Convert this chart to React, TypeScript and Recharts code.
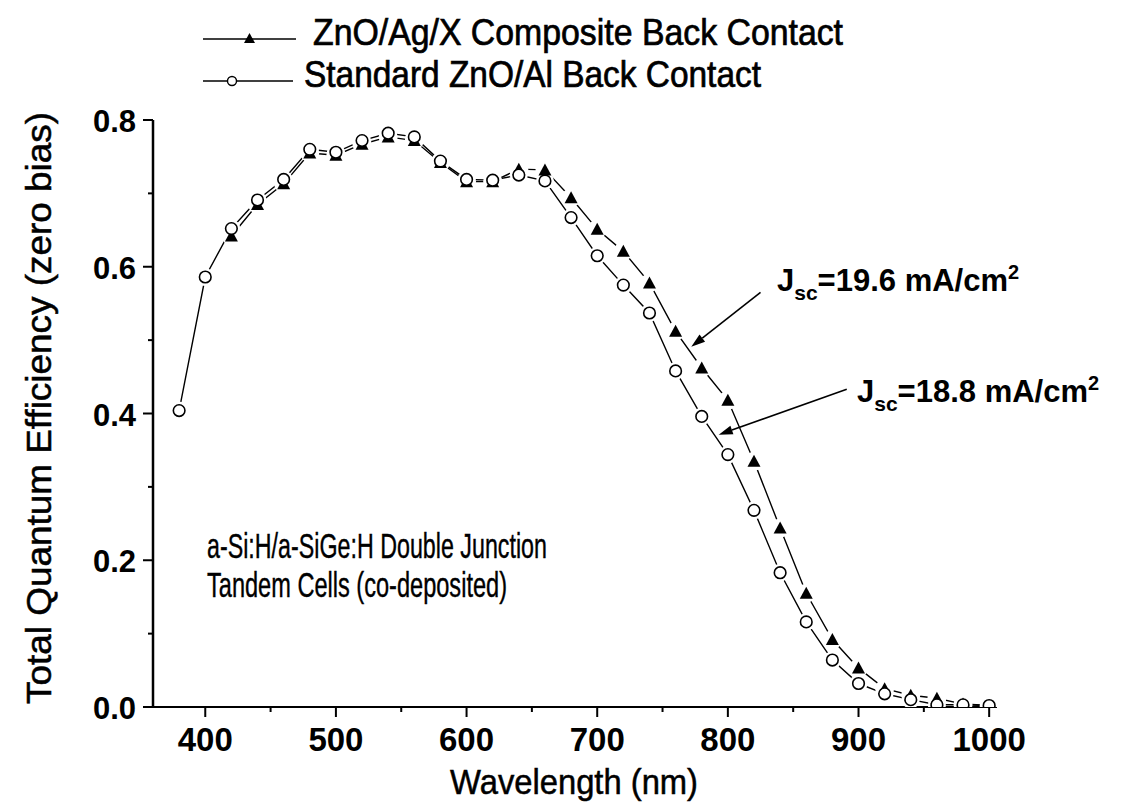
import { LineChart, Line, XAxis, YAxis, ReferenceLine } from "recharts";

const FONT = '"Liberation Sans", Arial, sans-serif';

// wavelength grid (nm) and total QE at zero bias
const wavelength = [
  380, 400, 420, 440, 460, 480, 500, 520, 540, 560, 580, 600, 620, 640, 660, 680,
  700, 720, 740, 760, 780, 800, 820, 840, 860, 880, 900, 920, 940, 960, 980, 1000,
];
const standardQE = [
  0.404, 0.586, 0.652, 0.691, 0.719, 0.76, 0.756, 0.772, 0.782, 0.777, 0.744, 0.719,
  0.718, 0.725, 0.717, 0.667, 0.615, 0.575, 0.537, 0.458, 0.396, 0.344, 0.268, 0.183,
  0.116, 0.064, 0.032, 0.018, 0.01, 0.003, 0.003, 0.002,
];
const compositeQE = [
  null, null, 0.642, 0.685, 0.713, 0.755, 0.752, 0.767, 0.777, 0.772, 0.742, 0.716,
  0.716, 0.733, 0.732, 0.694, 0.651, 0.621, 0.578, 0.512, 0.462, 0.418, 0.335, 0.244,
  0.155, 0.092, 0.053, 0.025, 0.016, 0.012, 0.004, 0.002,
];

const xTicks = [400, 450, 500, 550, 600, 650, 700, 750, 800, 850, 900, 950, 1000];
const yTicks = [0, 0.1, 0.2, 0.3, 0.4, 0.5, 0.6, 0.7, 0.8];

// annotation arrows: tail -> head, in data units
const arrow196 = [{ x: 825, y: 0.565 }, { x: 772, y: 0.491 }];
const arrow188 = [{ x: 891, y: 0.433 }, { x: 793, y: 0.371 }];

const rows = wavelength.map((nm, i) => ({ nm, std: standardQE[i], comp: compositeQE[i] }));

function XTick(props: any) {
  const { x, y, payload } = props;
  const major = payload.value % 100 === 0;
  return (
    <g>
      <line x1={x} y1={y} x2={x} y2={y + (major ? 10 : 5)} stroke="#000" strokeWidth={2} />
      {major && (
        <text x={x} y={y + 44} textAnchor="middle" fontSize={33} fontWeight="bold" fontFamily={FONT} fill="#000">
          {payload.value}
        </text>
      )}
    </g>
  );
}

function YTick(props: any) {
  const { x, y, payload } = props;
  const major = Math.round(payload.value * 10) % 2 === 0;
  return (
    <g>
      <line x1={x} y1={y} x2={x - (major ? 10 : 5)} y2={y} stroke="#000" strokeWidth={2} />
      {major && (
        <text x={x - 17} y={y + 12} textAnchor="end" fontSize={31} fontWeight="bold" fontFamily={FONT} fill="#000">
          {payload.value.toFixed(1)}
        </text>
      )}
    </g>
  );
}

// white halos cut the connecting line short of each marker
const haloDot = (r: number) => (props: any) => {
  const { cx, cy, index, value } = props;
  if (value == null || cx == null || cy == null) return <g key={`h-${index}`} />;
  return <circle key={`h-${index}`} cx={cx} cy={cy} r={r} fill="#fff" stroke="none" />;
};

function TriangleDot(props: any) {
  const { cx, cy, index, value } = props;
  if (value == null || cx == null || cy == null) return <g key={`t-${index}`} />;
  return (
    <polygon
      key={`t-${index}`}
      points={`${cx},${cy - 6.5} ${cx + 6.5},${cy + 5.5} ${cx - 6.5},${cy + 5.5}`}
      fill="#000"
    />
  );
}

function CircleDot(props: any) {
  const { cx, cy, index, value } = props;
  if (value == null || cx == null || cy == null) return <g key={`c-${index}`} />;
  return <circle key={`c-${index}`} cx={cx} cy={cy} r={5.8} fill="#fff" stroke="#000" strokeWidth={1.6} />;
}

function Arrow(props: any) {
  const { x1, y1, x2, y2 } = props;
  const ang = Math.atan2(y2 - y1, x2 - x1);
  const len = 14;
  const w = 4.5;
  const bx = x2 - len * Math.cos(ang);
  const by = y2 - len * Math.sin(ang);
  const px = -Math.sin(ang) * w;
  const py = Math.cos(ang) * w;
  return (
    <g>
      <line x1={x1} y1={y1} x2={bx} y2={by} stroke="#000" strokeWidth={1.6} />
      <polygon points={`${x2},${y2} ${bx + px},${by + py} ${bx - px},${by - py}`} fill="#000" />
    </g>
  );
}

export default function App() {
  return (
    <div style={{ position: "absolute", left: 0, top: 0, width: 1126, height: 809, background: "#fff" }}>
      <LineChart width={1126} height={809} data={rows} margin={{ top: 120, right: 129, bottom: 0, left: 0 }}>
        <XAxis
          type="number"
          dataKey="nm"
          domain={[360, 1006]}
          ticks={xTicks}
          interval={0}
          tick={XTick}
          tickLine={false}
          tickSize={0}
          tickMargin={0}
          height={102}
          axisLine={{ stroke: "#000", strokeWidth: 2 }}
          allowDataOverflow
        />
        <YAxis
          type="number"
          domain={[0, 0.8]}
          ticks={yTicks}
          interval={0}
          tick={YTick}
          tickLine={false}
          tickSize={0}
          tickMargin={0}
          width={153}
          axisLine={{ stroke: "#000", strokeWidth: 2.5 }}
          allowDataOverflow
        />
        <Line dataKey="comp" stroke="#000" strokeWidth={1.4} dot={false} isAnimationActive={false} />
        <Line dataKey="std" stroke="#000" strokeWidth={1.4} dot={false} isAnimationActive={false} />
        <Line dataKey="comp" stroke="none" dot={haloDot(9.5)} activeDot={false} isAnimationActive={false} />
        <Line dataKey="std" stroke="none" dot={haloDot(9)} activeDot={false} isAnimationActive={false} />
        <Line dataKey="comp" stroke="none" dot={TriangleDot} activeDot={false} isAnimationActive={false} />
        <Line dataKey="std" stroke="none" dot={CircleDot} activeDot={false} isAnimationActive={false} />
        <ReferenceLine y={0} stroke="#000" strokeWidth={2} />
        <ReferenceLine segment={arrow196} shape={Arrow} />
        <ReferenceLine segment={arrow188} shape={Arrow} />
      </LineChart>

      <svg width={1126} height={809} style={{ position: "absolute", left: 0, top: 0, pointerEvents: "none" }}>
        <g fontFamily={FONT} fill="#000">
          {/* x axis line runs a little past the y axis */}
          <line x1={143} y1={707} x2={153} y2={707} stroke="#000" strokeWidth={2} />

          {/* legend */}
          <line x1={203} y1={39} x2={296} y2={39} stroke="#000" strokeWidth={1.6} />
          <polygon points="249.5,33 255,43 244,43" fill="#000" />
          <text x={313} y={45} fontSize={36} stroke="#000" strokeWidth={0.7} textLength={530} lengthAdjust="spacingAndGlyphs">
            ZnO/Ag/X Composite Back Contact
          </text>
          <line x1={203} y1={81} x2={293} y2={81} stroke="#000" strokeWidth={1.6} />
          <circle cx={232} cy={81} r={4.5} fill="#fff" stroke="#000" strokeWidth={1.4} />
          <text x={304} y={87} fontSize={36} stroke="#000" strokeWidth={0.7} textLength={457} lengthAdjust="spacingAndGlyphs">
            Standard ZnO/Al Back Contact
          </text>

          {/* axis titles */}
          <text x={574} y={794} fontSize={35} textAnchor="middle" stroke="#000" strokeWidth={0.5} textLength={248} lengthAdjust="spacingAndGlyphs">
            Wavelength (nm)
          </text>
          <text
            transform="translate(51,408) rotate(-90)"
            fontSize={35}
            textAnchor="middle"
            stroke="#000"
            strokeWidth={0.5}
            textLength={592}
            lengthAdjust="spacingAndGlyphs"
          >
            Total Quantum Efficiency (zero bias)
          </text>

          {/* sample description */}
          <text x={207} y={558} fontSize={35} stroke="#000" strokeWidth={0.4} textLength={340} lengthAdjust="spacingAndGlyphs">
            a-Si:H/a-SiGe:H Double Junction
          </text>
          <text x={207} y={597} fontSize={35} stroke="#000" strokeWidth={0.4} textLength={300} lengthAdjust="spacingAndGlyphs">
            Tandem Cells (co-deposited)
          </text>

          {/* short-circuit current labels */}
          <text x={777} y={291} fontSize={31} fontWeight="bold">
            J<tspan fontSize={21} dy={9}>sc</tspan>
            <tspan fontSize={31} dy={-9}>=19.6 mA/cm</tspan>
            <tspan fontSize={20} dy={-12}>2</tspan>
          </text>
          <text x={857} y={402} fontSize={31} fontWeight="bold">
            J<tspan fontSize={21} dy={9}>sc</tspan>
            <tspan fontSize={31} dy={-9}>=18.8 mA/cm</tspan>
            <tspan fontSize={20} dy={-12}>2</tspan>
          </text>
        </g>
      </svg>
    </div>
  );
}
